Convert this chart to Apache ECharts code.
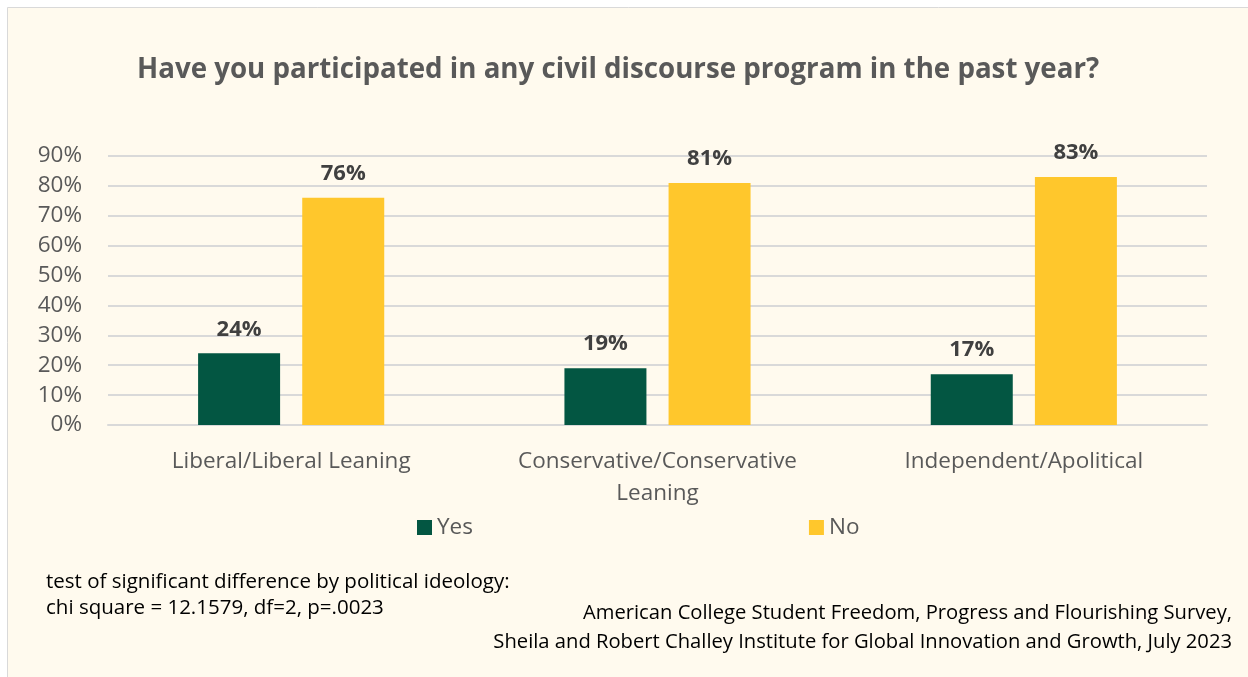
<!DOCTYPE html>
<html>
<head>
<meta charset="utf-8">
<script src="https://cdn.jsdelivr.net/npm/echarts@6/dist/echarts.min.js"></script>
<style>
  html, body { margin: 0; padding: 0; background: #ffffff; }
  #chart { width: 1248px; height: 677px; }
</style>
</head>
<body>
<div id="chart"></div>
<script>
// Participation in civil discourse programs by political ideology (percent)
const categories = ['Liberal/Liberal Leaning', 'Conservative/Conservative\nLeaning', 'Independent/Apolitical'];
const yesValues = [24, 19, 17];
const noValues = [76, 81, 83];
const yTicks = { min: 0, max: 90, interval: 10 };

const FONT = '"Open Sans", "Noto Sans", sans-serif';
const TEXT = '#595959';

const chart = echarts.init(document.getElementById('chart'), null, { renderer: 'canvas' });

const valueLabel = {
  show: true,
  position: 'top',
  distance: 13,
  formatter: '{c}%',
  fontFamily: FONT,
  fontSize: 22,
  fontWeight: 'bold',
  color: '#404040'
};

chart.setOption({
  backgroundColor: '#ffffff',
  animation: false,
  graphic: [
    {
      type: 'rect',
      z: -10,
      shape: { x: 7.5, y: 7.5, width: 1250, height: 680 },
      style: { fill: '#FFFAEE', stroke: '#D9D9D9', lineWidth: 1 }
    },
    {
      type: 'text', left: 46, top: 572,
      style: { text: 'test of significant difference by political ideology:', font: '20.5px ' + FONT, fill: '#000000' }
    },
    {
      type: 'text', left: 46, top: 598,
      style: { text: 'chi square = 12.1579, df=2, p=.0023', font: '20.5px ' + FONT, fill: '#000000' }
    },
    {
      type: 'text', right: 16, top: 603,
      style: { text: 'American College Student Freedom, Progress and Flourishing Survey,', font: '20.2px ' + FONT, fill: '#000000', align: 'right' }
    },
    {
      type: 'text', right: 16, top: 632,
      style: { text: 'Sheila and Robert Challey Institute for Global Innovation and Growth, July 2023', font: '20.2px ' + FONT, fill: '#000000', align: 'right' }
    }
  ],
  title: {
    text: 'Have you participated in any civil discourse program in the past year?',
    left: 132,
    top: 51,
    textStyle: { fontFamily: FONT, fontSize: 27.7, fontWeight: 'bold', color: TEXT }
  },
  legend: {
    data: ['Yes', 'No'],
    top: 511,
    left: 412,
    itemWidth: 15,
    itemHeight: 15,
    itemGap: 336,
    icon: 'rect',
    textStyle: { fontFamily: FONT, fontSize: 22.5, color: TEXT }
  },
  grid: { left: 108, right: 41, top: 156, bottom: 252 },
  xAxis: {
    type: 'category',
    data: categories,
    axisLine: { show: true, lineStyle: { color: '#D9D9D9', width: 2 } },
    axisTick: { show: false },
    axisLabel: { fontFamily: FONT, fontSize: 22.5, color: TEXT, margin: 21, lineHeight: 32, interval: 0 }
  },
  yAxis: {
    type: 'value',
    min: yTicks.min,
    max: yTicks.max,
    interval: yTicks.interval,
    axisLine: { show: false },
    axisTick: { show: false },
    axisLabel: { formatter: '{value}%', fontFamily: FONT, fontSize: 22.5, color: TEXT, margin: 26 },
    splitLine: { lineStyle: { color: '#D9D9D9', width: 2 } }
  },
  series: [
    {
      name: 'Yes', type: 'bar', data: yesValues,
      itemStyle: { color: '#035642' },
      barWidth: 82, barGap: '27%',
      label: valueLabel
    },
    {
      name: 'No', type: 'bar', data: noValues,
      itemStyle: { color: '#FFC72C' },
      barWidth: 82,
      label: valueLabel
    }
  ]
});
</script>
</body>
</html>
